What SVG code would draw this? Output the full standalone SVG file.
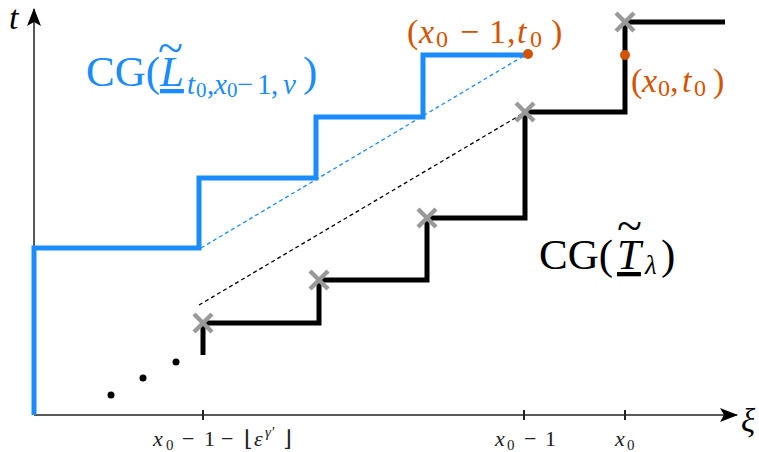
<svg xmlns="http://www.w3.org/2000/svg" width="759" height="452" viewBox="0 0 759 452">
<style>
.axis{stroke:#222;stroke-width:1.5;fill:none}
.tick{stroke:#222;stroke-width:2}
.blue{stroke:#1A8CFF;stroke-width:5;fill:none}
.black{stroke:#000;stroke-width:5;fill:none}
.cross{stroke:#999;stroke-width:4.5}
.m{font-family:"Liberation Serif","DejaVu Serif",serif}
.i{font-style:italic}
</style>
<defs>
<marker id="arr" viewBox="0 0 18 14" refX="17" refY="7" markerWidth="18" markerHeight="14" markerUnits="userSpaceOnUse" orient="auto">
<path d="M0,0 L18,7 L0,14 L4,7 Z" fill="#000"/>
</marker>
<g id="x"><line class="cross" x1="-9" y1="-9" x2="9" y2="9"/><line class="cross" x1="-9" y1="9" x2="9" y2="-9"/></g>
</defs>
<g id="axes">
<line class="axis" x1="34" y1="415" x2="737" y2="415" marker-end="url(#arr)"/>
<line class="axis" x1="34" y1="415" x2="34" y2="9" marker-end="url(#arr)"/>
<line class="tick" x1="203" y1="410" x2="203" y2="420"/>
<line class="tick" x1="524" y1="410" x2="524" y2="420"/>
<line class="tick" x1="625" y1="410" x2="625" y2="420"/>
<text class="m i" x="9" y="29" font-size="34">t</text>
<text class="m i" x="741" y="432" font-size="33">ξ</text>
<text class="m" font-size="22" fill="#222"><tspan class="i" x="153" y="446">x</tspan><tspan font-size="15" x="166" y="450">0</tspan><tspan x="182" y="446">−</tspan><tspan x="204" y="446">1</tspan><tspan x="221" y="446">−</tspan><tspan x="244" y="446">⌊</tspan><tspan class="i" x="254" y="446">ε</tspan><tspan class="i" font-size="15" x="265" y="437">γ′</tspan><tspan x="283" y="446">⌋</tspan></text>
<text class="m" font-size="22" fill="#222"><tspan class="i" x="495" y="446">x</tspan><tspan font-size="15" x="507" y="450">0</tspan><tspan x="524" y="446">−</tspan><tspan x="545" y="446">1</tspan></text>
<text class="m" font-size="22" fill="#222"><tspan class="i" x="615" y="446">x</tspan><tspan font-size="15" x="627" y="450">0</tspan></text>
</g>
<g id="connectors">
<line x1="201" y1="248" x2="527" y2="54" stroke="#1A8CFF" stroke-width="1.3" stroke-dasharray="4,3"/>
<line x1="199" y1="305" x2="522" y2="114" stroke="#000" stroke-width="1.3" stroke-dasharray="4,3"/>
</g>
<g id="blue-path">
<path class="blue" d="M34,415 V248 H199 V178 H316 V117 H423 V55 H527"/>
<text class="m" font-size="43" fill="#1A8CFF"><tspan x="86" y="86">CG(</tspan><tspan font-size="46" x="158" y="63">~</tspan><tspan class="i" x="160" y="86" text-decoration="underline">L</tspan><tspan class="i" font-size="29" x="187" y="94">t</tspan><tspan font-size="21" x="196" y="97">0</tspan><tspan font-size="29" x="207" y="94">,</tspan><tspan class="i" font-size="29" x="214" y="94">x</tspan><tspan font-size="21" x="227" y="97">0</tspan><tspan font-size="29" x="237" y="94">−</tspan><tspan font-size="29" x="257" y="94">1</tspan><tspan font-size="29" x="271" y="94">,</tspan><tspan class="i" font-size="29" x="283" y="94">v</tspan><tspan x="303" y="86">)</tspan></text>
</g>
<g id="black-path">
<path class="black" d="M203,355 V323 H319 V280 H427 V218 H525 V112 H625 V22 H725"/>
<text class="m" font-size="43" fill="#000"><tspan x="539" y="269">CG(</tspan><tspan font-size="46" x="617" y="241">~</tspan><tspan class="i" x="617" y="269" text-decoration="underline">T</tspan><tspan class="i" font-size="27" x="645" y="274">λ</tspan><tspan x="661" y="269">)</tspan></text>
</g>
<g id="crosses">
<use href="#x" x="203" y="323"/>
<use href="#x" x="319" y="280"/>
<use href="#x" x="427" y="218"/>
<use href="#x" x="525" y="112"/>
<use href="#x" x="625" y="22"/>
</g>
<g id="dots">
<circle cx="111" cy="395" r="3.5"/>
<circle cx="143" cy="378" r="3.5"/>
<circle cx="176" cy="362" r="3.5"/>
</g>
<g id="points" fill="#D35400">
<circle cx="528" cy="54" r="5"/>
<circle cx="625" cy="55" r="5"/>
<text class="m" font-size="34"><tspan x="407" y="43">(</tspan><tspan class="i" x="419" y="43">x</tspan><tspan font-size="24" x="436" y="47">0</tspan><tspan x="460" y="43">−</tspan><tspan x="489" y="43">1</tspan><tspan x="507" y="43">,</tspan><tspan class="i" x="517" y="43">t</tspan><tspan font-size="24" x="530" y="47">0</tspan><tspan x="551" y="43">)</tspan></text>
<text class="m" font-size="34"><tspan x="631" y="92">(</tspan><tspan class="i" x="642" y="92">x</tspan><tspan font-size="24" x="658" y="96">0</tspan><tspan x="670" y="92">,</tspan><tspan class="i" x="682" y="92">t</tspan><tspan font-size="24" x="694" y="96">0</tspan><tspan x="713" y="92">)</tspan></text>
</g>
</svg>
